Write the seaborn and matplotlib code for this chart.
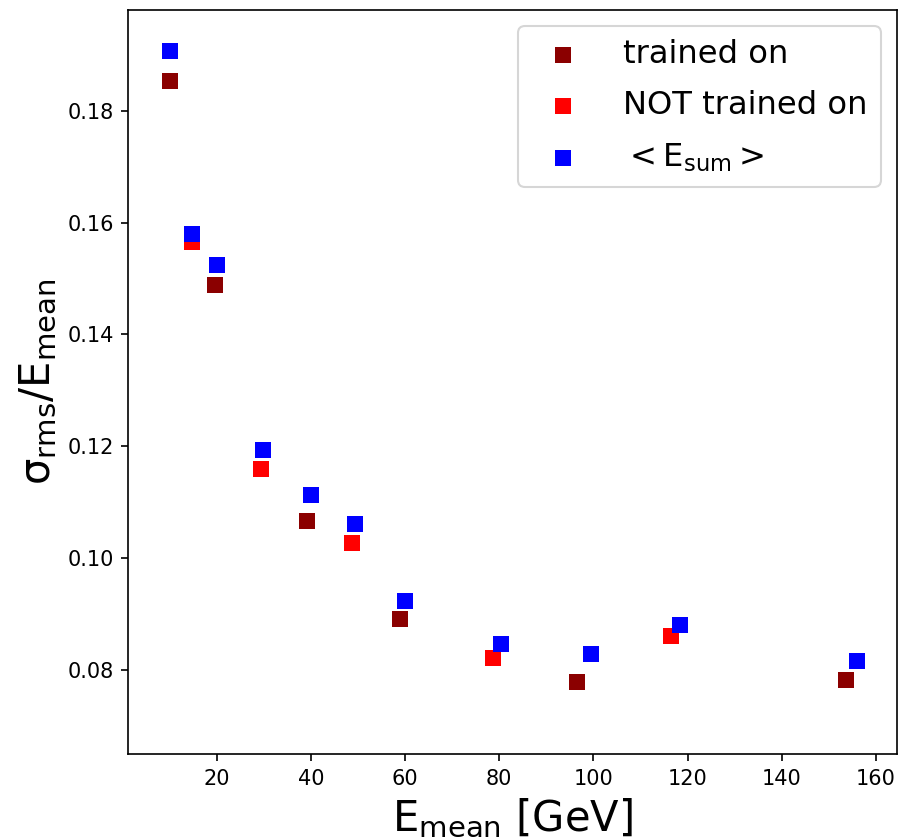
import numpy as np
import pandas as pd
import matplotlib
matplotlib.use('Agg')
import matplotlib.pyplot as plt
import seaborn as sns

# trained on
trained_x = [10.1, 19.6, 39.2, 58.9, 96.5, 153.7]
trained_y = [0.1854, 0.1488, 0.1067, 0.0892, 0.0778, 0.0782]

# NOT trained on
not_trained_x = [14.8, 29.4, 48.7, 78.6, 116.5]
not_trained_y = [0.1565, 0.1160, 0.1027, 0.0821, 0.0861]

# <E_sum>
esum_x = [10.1, 14.8, 20.0, 29.8, 40.0, 49.4, 60.0, 80.4, 99.4, 118.4, 155.9]
esum_y = [0.1907, 0.1580, 0.1524, 0.1193, 0.1113, 0.1061, 0.0923, 0.0847, 0.0828, 0.0880, 0.0816]

fig = plt.figure(figsize=(898 / 150, 840 / 150), dpi=150)
ax = fig.add_axes([0.1429, 0.1024, 0.8556, 0.8856])

sns.scatterplot(x=trained_x, y=trained_y, ax=ax, color='darkred', marker='s',
                s=52, linewidth=0, label='trained on')
sns.scatterplot(x=not_trained_x, y=not_trained_y, ax=ax, color='red', marker='s',
                s=52, linewidth=0, label='NOT trained on')
sns.scatterplot(x=esum_x, y=esum_y, ax=ax, color='blue', marker='s',
                s=52, linewidth=0, label=r'$<\mathrm{E_{sum}}>$')

ax.set_xlim(1.2, 164.4)
ax.set_ylim(0.065, 0.198)
ax.set_xticks([20, 40, 60, 80, 100, 120, 140, 160])
ax.set_yticks([0.08, 0.10, 0.12, 0.14, 0.16, 0.18])
ax.tick_params(labelsize=10)

ax.set_xlabel(r'$\mathrm{E_{mean}}$ [GeV]', fontsize=20)
ax.set_ylabel(r'σ$_{\mathrm{rms}}$/$\mathrm{E_{mean}}$', fontsize=20)

ax.legend(loc='upper right', fontsize=15.5, scatterpoints=1, labelspacing=0.62,
          handletextpad=0.85)

fig.savefig('out.png', dpi=150)
